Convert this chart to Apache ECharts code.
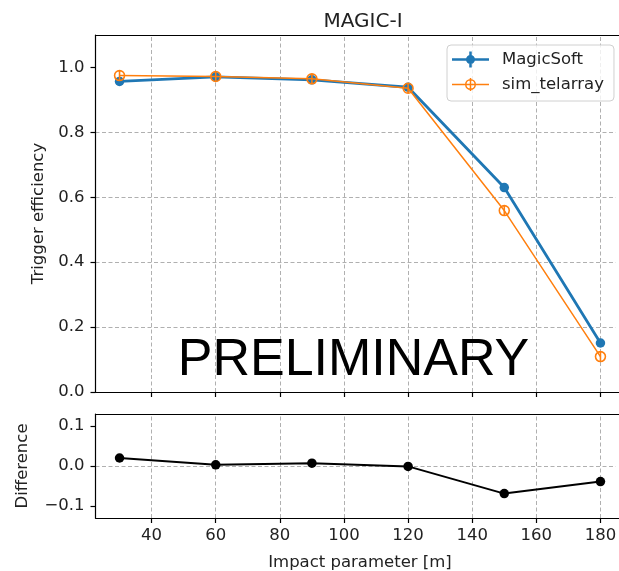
<!DOCTYPE html>
<html>
<head>
<meta charset="utf-8">
<script src="https://cdn.jsdelivr.net/npm/echarts@6/dist/echarts.min.js"></script>
<style>
html,body{margin:0;padding:0;background:#fff;overflow:hidden;}
#chart{width:619px;height:571px;}
</style>
</head>
<body>
<div id="chart"></div>
<script>
// ---- data ----
const impact = [30, 60, 90, 120, 150, 180];
const magicSoft = [0.957, 0.971, 0.962, 0.939, 0.630, 0.151];
const simTelarray = [0.975, 0.972, 0.965, 0.936, 0.559, 0.109];
const difference = [0.020, 0.003, 0.007, -0.001, -0.069, -0.039];
const xTicks = [40, 60, 80, 100, 120, 140, 160, 180];
const yTicksTop = [0, 0.2, 0.4, 0.6, 0.8, 1.0];
const yTicksBottom = [-0.1, 0, 0.1];

const FONT = 'DejaVu Sans';
const TXT = '#222';
const FS = 16.5;

const pairs = (xs, ys) => xs.map((x, i) => [x, ys[i]]);

const blueIcon = 'path://M0,6.75 L37,6.75 L37,9.25 L0,9.25 Z M17.25,0 L19.75,0 L19.75,16 L17.25,16 Z M23,8 A4.5,4.5 0 1,1 14,8 A4.5,4.5 0 1,1 23,8 Z';
const orangeIcon = 'path://M0,7.25 L37,7.25 L37,8.75 L0,8.75 Z M17.75,1.5 L19.25,1.5 L19.25,14.5 L17.75,14.5 Z M24,8 A5.5,5.5 0 1,1 13,8 A5.5,5.5 0 1,1 24,8 Z M22.5,8 A4,4 0 1,0 14.5,8 A4,4 0 1,0 22.5,8 Z';
const orangeSym = 'path://M11,5.5 A5.5,5.5 0 1,1 0,5.5 A5.5,5.5 0 1,1 11,5.5 Z M9.5,5.5 A4,4 0 1,0 1.5,5.5 A4,4 0 1,0 9.5,5.5 Z M4.75,0.5 L6.25,0.5 L6.25,10.5 L4.75,10.5 Z';

const GRID_LS = {color: '#b0b0b0', width: 1, type: [4, 2.5]};
const gridLine = {show: true, showMinLine: false, showMaxLine: false, lineStyle: GRID_LS};
const axisLineBlack = {show: true, onZero: false, lineStyle: {color: '#000', width: 1.2}};
const tickStyle = (vals) => ({show: true, inside: false, length: 5, lineStyle: {color: '#000', width: 1.2}, customValues: vals});
const topFrame = (g) => ({
  type: 'value', gridIndex: g, position: 'top', min: 22.5, max: 187.5,
  axisLine: axisLineBlack, axisTick: {show: false}, axisLabel: {show: false}, splitLine: {show: false}
});
// vertical grid lines at the x tick values, placed through the x scale
const xGridMarks = {
  silent: true, symbol: ['none', 'none'], z: 1,
  label: {show: false}, lineStyle: GRID_LS, emphasis: {disabled: true},
  data: xTicks.map(v => ({xAxis: v}))
};

const chart = echarts.init(document.getElementById('chart'), null, {renderer: 'canvas'});
chart.setOption({
  animation: false,
  backgroundColor: '#fff',
  textStyle: {fontFamily: FONT},
  title: {
    text: 'MAGIC-I', left: 358, top: 7, textAlign: 'center',
    textStyle: {fontFamily: FONT, fontSize: 20, fontWeight: 'normal', color: TXT}
  },
  legend: {
    left: 447, top: 45, orient: 'vertical',
    itemWidth: 37, itemHeight: 16, itemGap: 8,
    padding: [6, 10, 8, 5],
    borderColor: '#d0d0d0', borderWidth: 1, borderRadius: 4,
    backgroundColor: 'rgba(255,255,255,0.8)',
    textStyle: {fontFamily: FONT, fontSize: FS, color: TXT, padding: [0, 0, 0, 8]},
    data: [
      {name: 'MagicSoft', icon: blueIcon, itemStyle: {color: '#1f77b4', borderWidth: 0}},
      {name: 'sim_telarray', icon: orangeIcon, itemStyle: {color: '#ff7f0e', borderWidth: 0}}
    ]
  },
  grid: [
    {left: 95.5, top: 35, width: 529, height: 357, show: false, containLabel: false, outerBoundsMode: 'none'},
    {left: 95.5, top: 414, width: 529, height: 104, show: false, containLabel: false, outerBoundsMode: 'none'}
  ],
  xAxis: [
    {
      type: 'value', gridIndex: 0, position: 'bottom', min: 22.5, max: 187.5,
      axisLine: axisLineBlack, axisTick: tickStyle(xTicks),
      axisLabel: {show: false, customValues: xTicks},
      splitLine: {show: false}
    },
    {
      type: 'value', gridIndex: 1, position: 'bottom', min: 22.5, max: 187.5,
      axisLine: axisLineBlack, axisTick: tickStyle(xTicks),
      axisLabel: {show: true, customValues: xTicks, margin: 9, color: TXT, fontFamily: FONT, fontSize: FS,
        formatter: v => String(v)},
      splitLine: {show: false},
      name: 'Impact parameter [m]', nameLocation: 'middle', nameGap: 36,
      nameTextStyle: {fontFamily: FONT, fontSize: FS, color: TXT}
    },
    topFrame(0),
    topFrame(1)
  ],
  yAxis: [
    {
      type: 'value', gridIndex: 0, min: 0, max: 1.1,
      axisLine: axisLineBlack, axisTick: tickStyle(yTicksTop),
      axisLabel: {show: true, customValues: yTicksTop, margin: 11, color: TXT, fontFamily: FONT, fontSize: FS,
        formatter: v => Number(v).toFixed(1)},
      splitLine: gridLine,
      name: 'Trigger efficiency', nameLocation: 'middle', nameGap: 47,
      nameTextStyle: {fontFamily: FONT, fontSize: FS, color: TXT}
    },
    {
      type: 'value', gridIndex: 1, min: -0.13, max: 0.13,
      axisLine: axisLineBlack, axisTick: tickStyle(yTicksBottom),
      axisLabel: {show: true, customValues: yTicksBottom, margin: 11, color: TXT, fontFamily: FONT, fontSize: FS,
        formatter: v => Number(v).toFixed(1).replace('-', '\u2212')},
      splitLine: gridLine,
      name: 'Difference', nameLocation: 'middle', nameGap: 64,
      nameTextStyle: {fontFamily: FONT, fontSize: FS, color: TXT}
    }
  ],
  series: [
    {
      name: 'MagicSoft', type: 'line', xAxisIndex: 0, yAxisIndex: 0,
      data: pairs(impact, magicSoft),
      symbol: 'circle', symbolSize: 9.5,
      lineStyle: {color: '#1f77b4', width: 2.8},
      itemStyle: {color: '#1f77b4'}, z: 3,
      markLine: xGridMarks
    },
    {
      name: 'sim_telarray', type: 'line', xAxisIndex: 0, yAxisIndex: 0,
      data: pairs(impact, simTelarray),
      symbol: orangeSym, symbolSize: 11.5, symbolKeepAspect: true,
      lineStyle: {color: '#ff7f0e', width: 1.5},
      itemStyle: {color: '#ff7f0e', borderWidth: 0}, z: 4
    },
    {
      name: 'Difference', type: 'line', xAxisIndex: 1, yAxisIndex: 1,
      data: pairs(impact, difference),
      symbol: 'circle', symbolSize: 9.5,
      lineStyle: {color: '#000', width: 2},
      itemStyle: {color: '#000'}, z: 3,
      markLine: xGridMarks
    }
  ],
  graphic: [
    {
      type: 'text', x: 353.5, y: 361, z: 100,
      style: {text: 'PRELIMINARY', fontFamily: 'Liberation Sans', fontSize: 52, fill: '#000',
        align: 'center', verticalAlign: 'middle'}
    },
    {type: 'rect', z: 50, silent: true, shape: {x: 615.5, y: 36, width: 4, height: 355}, style: {fill: '#fff'}},
    {type: 'rect', z: 50, silent: true, shape: {x: 615.5, y: 415, width: 4, height: 102}, style: {fill: '#fff'}}
  ]
});
</script>
</body>
</html>
